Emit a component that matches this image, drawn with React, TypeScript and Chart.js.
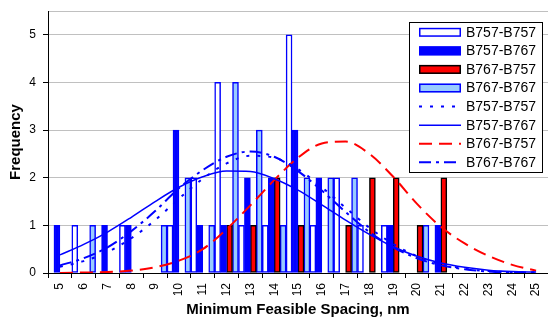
import React, { useEffect, useRef } from 'react';
import { Chart, registerables } from 'chart.js';

Chart.register(...registerables);

// ---- data ----
const categories = [5, 6, 7, 8, 9, 10, 11, 12, 13, 14, 15, 16, 17, 18, 19, 20, 21, 22, 23, 24, 25];
const tickLabels = categories.map(String);
const seriesNames = ['B757-B757', 'B757-B767', 'B767-B757', 'B767-B767'];

const countB757B757 = [0, 1, 0, 1, 0, 1, 2, 4, 1, 1, 5, 1, 2, 1, 1, 0, 0, 0, 0, 0, 0];
const countB757B767 = [1, 0, 1, 1, 0, 3, 1, 1, 2, 2, 3, 2, 0, 0, 1, 0, 1, 0, 0, 0, 0];
const countB767B757 = [0, 0, 0, 0, 0, 0, 0, 1, 1, 2, 1, 0, 1, 2, 2, 1, 2, 0, 0, 0, 0];
const countB767B767 = [0, 1, 0, 0, 1, 2, 1, 4, 3, 1, 2, 2, 2, 0, 0, 1, 0, 0, 0, 0, 0];

const fitB757B757 = [0.13, 0.25, 0.44, 0.73, 1.11, 1.56, 1.98, 2.3, 2.46, 2.42, 2.18, 1.8, 1.37, 0.95, 0.61, 0.35, 0.19, 0.09, 0.04, 0.02, 0.01];
const fitB757B767 = [0.38, 0.6, 0.86, 1.17, 1.5, 1.8, 2.02, 2.14, 2.13, 1.98, 1.74, 1.43, 1.11, 0.81, 0.55, 0.35, 0.21, 0.12, 0.06, 0.03, 0.02];
const fitB767B757 = [0.0, 0.01, 0.02, 0.05, 0.12, 0.26, 0.5, 0.92, 1.42, 1.95, 2.42, 2.72, 2.76, 2.5, 2.02, 1.45, 0.97, 0.62, 0.36, 0.17, 0.05];
const fitB767B767 = [0.16, 0.31, 0.54, 0.88, 1.3, 1.78, 2.16, 2.44, 2.55, 2.44, 2.14, 1.73, 1.28, 0.86, 0.54, 0.31, 0.16, 0.08, 0.03, 0.01, 0.01];

const yTicks = [0, 1, 2, 3, 4, 5];

const FONT = "'Liberation Sans', Arial, sans-serif";

const barData = (arr: number[]) => arr.map((v) => (v === 0 ? null : v));

const boxLegend = {
  id: 'boxLegend',
  afterDraw(chart: any) {
    const ctx = chart.ctx as CanvasRenderingContext2D;
    const bx = 409.5, by = 22.5, bw = 133, bh = 150;
    const rowTop = 32.3, rowStep = 18.57;
    const sx = 419, sw = 42;
    ctx.save();
    ctx.fillStyle = '#ffffff';
    ctx.fillRect(bx, by, bw, bh);
    ctx.strokeStyle = '#000000';
    ctx.lineWidth = 1;
    ctx.setLineDash([]);
    ctx.strokeRect(bx, by, bw, bh);
    chart.data.datasets.forEach((ds: any, i: number) => {
      const cy = rowTop + rowStep * i;
      ctx.save();
      if (ds.type === 'line') {
        ctx.strokeStyle = ds.borderColor;
        ctx.lineWidth = ds.borderWidth;
        ctx.setLineDash(ds.borderDash || []);
        ctx.beginPath();
        ctx.moveTo(sx, cy);
        ctx.lineTo(sx + sw, cy);
        ctx.stroke();
      } else {
        ctx.fillStyle = ds.backgroundColor;
        ctx.fillRect(sx, cy - 4.5, sw, 9);
        ctx.strokeStyle = ds.borderColor;
        ctx.lineWidth = 1.5;
        ctx.setLineDash([]);
        ctx.strokeRect(sx + 0.75, cy - 3.75, sw - 1.5, 7.5);
      }
      ctx.restore();
      ctx.fillStyle = '#000000';
      ctx.font = `14px ${FONT}`;
      ctx.textBaseline = 'middle';
      ctx.textAlign = 'left';
      ctx.fillText(ds.label, 466, cy + 0.5);
    });
    ctx.restore();
  },
};

export default function App() {
  const ref = useRef<HTMLCanvasElement | null>(null);

  useEffect(() => {
    if (!ref.current) return;
    const barCommon = {
      type: 'bar' as const,
      borderWidth: 1.5,
      borderSkipped: false,
      categoryPercentage: 1,
      barPercentage: 1,
      order: 2,
    };
    const lineCommon = {
      type: 'line' as const,
      pointRadius: 0,
      fill: false,
      cubicInterpolationMode: 'monotone' as const,
      order: 1,
    };
    const chart = new Chart(ref.current, {
      type: 'bar',
      data: {
        labels: tickLabels,
        datasets: [
          { ...barCommon, label: seriesNames[0], data: barData(countB757B757), backgroundColor: '#ffffff', borderColor: '#0000ff' },
          { ...barCommon, label: seriesNames[1], data: barData(countB757B767), backgroundColor: '#0000ff', borderColor: '#0000ff' },
          { ...barCommon, label: seriesNames[2], data: barData(countB767B757), backgroundColor: '#ff0000', borderColor: '#000000' },
          { ...barCommon, label: seriesNames[3], data: barData(countB767B767), backgroundColor: '#99ccff', borderColor: '#0000ff' },
          { ...lineCommon, label: seriesNames[0], data: fitB757B757, borderColor: '#0000ff', borderWidth: 2, borderDash: [3, 8] },
          { ...lineCommon, label: seriesNames[1], data: fitB757B767, borderColor: '#0000ff', borderWidth: 1.5, borderDash: [] },
          { ...lineCommon, label: seriesNames[2], data: fitB767B757, borderColor: '#ff0000', borderWidth: 2, borderDash: [13, 7] },
          { ...lineCommon, label: seriesNames[3], data: fitB767B767, borderColor: '#0000ff', borderWidth: 2, borderDash: [12, 5, 3, 5] },
        ] as any,
      },
      options: {
        responsive: false,
        animation: false,
        layout: { padding: { top: 11, right: -2, bottom: 0, left: 0 } },
        plugins: { legend: { display: false }, tooltip: { enabled: false } },
        scales: {
          x: {
            type: 'category',
            position: 'bottom',
            offset: true,
            grid: { offset: true, drawOnChartArea: false, drawTicks: true, tickLength: 5, tickColor: '#000000' },
            border: { color: '#000000', width: 1 },
            ticks: { minRotation: 90, maxRotation: 90, autoSkip: false, color: '#000000', font: { family: FONT, size: 12 }, padding: 5 },
            title: { display: true, text: 'Minimum Feasible Spacing, nm', color: '#000000', font: { family: FONT, size: 15, weight: 'bold' }, padding: { top: 0, bottom: -1 } },
            afterFit: (s: any) => { s.height = 45; s.paddingLeft = 0; s.paddingRight = 0; },
          },
          y: {
            min: 0,
            max: 5.5,
            afterBuildTicks: (s: any) => { s.ticks = [...yTicks, 5.5].map((v) => ({ value: v })); },
            ticks: {
              color: '#000000',
              font: { family: FONT, size: 12 },
              padding: 7,
              callback: (v: any) => (yTicks.includes(Number(v)) ? String(v) : ''),
            },
            grid: {
              color: '#c0c0c0',
              lineWidth: 1,
              tickLength: 5,
              tickColor: (c: any) => (c.tick && yTicks.includes(c.tick.value) ? '#000000' : 'rgba(0,0,0,0)'),
            },
            border: { color: '#000000', width: 1 },
            title: { display: true, text: 'Frequency', color: '#000000', font: { family: FONT, size: 15, weight: 'bold' }, padding: { top: 7, bottom: 0 } },
            afterFit: (s: any) => { s.width = 48; s.paddingTop = 0; s.paddingBottom = 0; },
          },
        },
      } as any,
      plugins: [boxLegend],
    });
    return () => chart.destroy();
  }, []);

  return (
    <div style={{ position: 'absolute', left: 0, top: 0, width: 548, height: 318, background: '#ffffff' }}>
      <canvas ref={ref} width={548} height={318} style={{ display: 'block' }} />
    </div>
  );
}
